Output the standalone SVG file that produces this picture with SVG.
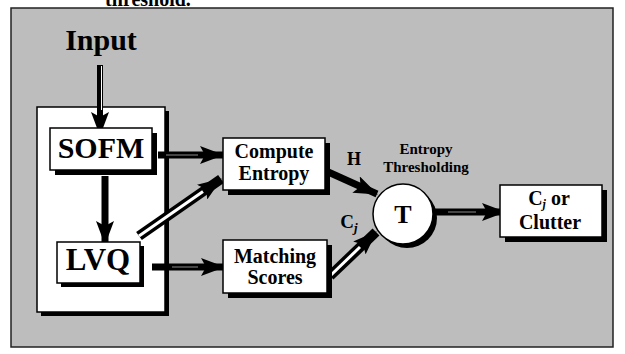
<svg xmlns="http://www.w3.org/2000/svg" width="625" height="354" viewBox="0 0 625 354">
<style>
  .t{font-family:"Liberation Serif","Times New Roman",serif;font-weight:bold;fill:#000;text-anchor:middle}
  .box{fill:#fff;stroke:#000;stroke-width:1.5}
  .sh{fill:#000}
  .ln{stroke:#000;fill:none}
  .gap{stroke:#fff;fill:none}
  .streak{stroke:#8a8a8a;fill:none;stroke-width:1}
</style>
<defs>
  <marker id="ah" viewBox="0 0 24 18" refX="23" refY="9" markerWidth="24" markerHeight="18" markerUnits="userSpaceOnUse" orient="auto">
    <path d="M0,0 L24,9 L0,18 L5,9 z" fill="#000"/>
  </marker>
</defs>
<rect x="0" y="0" width="625" height="354" fill="#fff"/>
<text class="t" x="148" y="6" font-size="20">threshold.</text>
<rect id="panel" x="11" y="8" width="602" height="339" fill="#bdbdbd" stroke="#222" stroke-width="1.5"/>

<g id="container">
  <rect class="sh" x="41" y="111" width="128" height="205"/>
  <rect class="box" x="37" y="107" width="128" height="205"/>
</g>

<g id="input">
  <text class="t" x="101" y="50" font-size="30">Input</text>
</g>

<g id="connectors">
  <line class="ln" x1="100" y1="65" x2="100" y2="135" stroke-width="6" marker-end="url(#ah)"/>
  <line class="gap" x1="101.5" y1="66" x2="101.5" y2="110" stroke-width="1"/>
  <line class="ln" x1="105" y1="176" x2="105" y2="244" stroke-width="7" marker-end="url(#ah)"/>
  <line class="ln" x1="158" y1="155" x2="223" y2="155" stroke-width="7" marker-end="url(#ah)"/>
  <line class="streak" x1="166" y1="155" x2="198" y2="155"/>
  <line class="ln" x1="139" y1="236" x2="221" y2="179" stroke-width="10" marker-end="url(#ah)"/>
  <line class="gap" x1="139" y1="236" x2="203" y2="191.5" stroke-width="3"/>
  <line class="ln" x1="152" y1="267" x2="224" y2="267" stroke-width="7" marker-end="url(#ah)"/>
  <line class="streak" x1="172" y1="267" x2="198" y2="267"/>
  <line class="ln" x1="326" y1="171" x2="377" y2="194" stroke-width="7" marker-end="url(#ah)"/>
  <line class="ln" x1="330" y1="276" x2="376" y2="232" stroke-width="10" marker-end="url(#ah)"/>
  <line class="gap" x1="330" y1="276" x2="360" y2="247" stroke-width="3"/>
  <line class="ln" x1="433" y1="212" x2="505" y2="212" stroke-width="7" marker-end="url(#ah)"/>
  <line class="streak" x1="448" y1="212" x2="476" y2="212"/>
</g>

<g id="sofm">
  <rect class="sh" x="55" y="133" width="102" height="42"/>
  <rect class="box" x="50" y="128" width="102" height="42"/>
  <text class="t" x="101" y="158" font-size="30">SOFM</text>
</g>

<g id="lvq">
  <rect class="sh" x="61" y="246" width="83" height="41"/>
  <rect class="box" x="57" y="242" width="83" height="41"/>
  <text class="t" x="98" y="270" font-size="31">LVQ</text>
</g>

<g id="compute-entropy">
  <rect class="sh" x="228" y="143" width="102" height="52"/>
  <rect class="box" x="223" y="138" width="102" height="52"/>
  <text class="t" x="274" y="158" font-size="20">Compute</text>
  <text class="t" x="274" y="180" font-size="20">Entropy</text>
</g>

<g id="matching-scores">
  <rect class="sh" x="228" y="245" width="104" height="53"/>
  <rect class="box" x="223" y="240" width="104" height="53"/>
  <text class="t" x="275" y="263" font-size="20">Matching</text>
  <text class="t" x="275" y="284" font-size="20">Scores</text>
</g>

<g id="labels">
  <text class="t" x="354" y="165" font-size="18">H</text>
  <text class="t" x="349" y="228" font-size="19">C<tspan font-size="13" font-style="italic" dy="4">j</tspan></text>
</g>

<g id="threshold">
  <text class="t" x="426" y="154" font-size="15">Entropy</text>
  <text class="t" x="426" y="172" font-size="15">Thresholding</text>
  <circle cx="407" cy="218" r="30" fill="#000"/>
  <circle cx="403" cy="214" r="30" fill="#fff" stroke="#000" stroke-width="1.5"/>
  <text class="t" x="403" y="223" font-size="26">T</text>
</g>

<g id="cj-clutter">
  <rect class="sh" x="505" y="190" width="102" height="52"/>
  <rect class="box" x="500" y="185" width="102" height="52"/>
  <text class="t" x="549" y="205" font-size="20">C<tspan font-size="12" font-style="italic" dy="3">j</tspan><tspan dy="-3"> or</tspan></text>
  <text class="t" x="550" y="229" font-size="20">Clutter</text>
</g>
</svg>
